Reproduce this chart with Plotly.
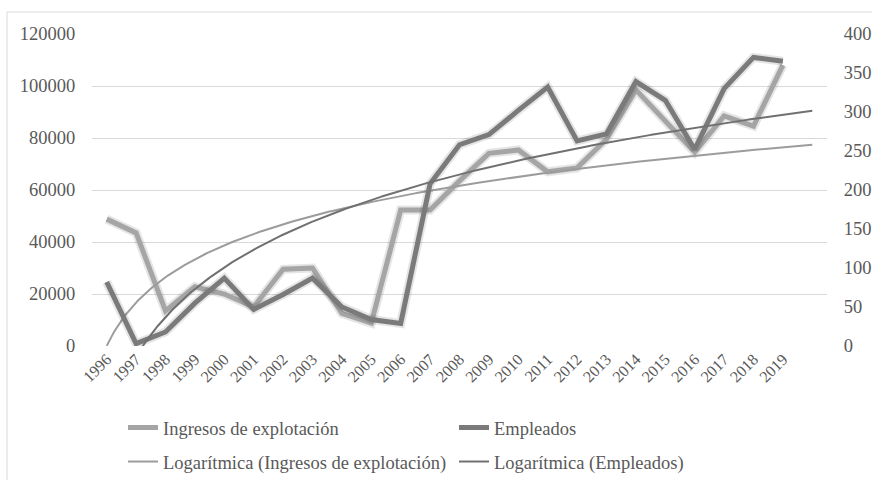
import numpy as np
import plotly.graph_objects as go

years = [str(y) for y in range(1996, 2020)]
ingresos = [48800, 43500, 13500, 22800, 20000, 15000, 29500, 30000, 12500, 8800,
            52300, 52300, 63500, 74100, 75400, 67000, 68500, 79500, 98500, 86500,
            74500, 88500, 84600, 108000]
empleados = [82, 3, 18, 55, 87, 47, 66, 87, 50, 34,
             29, 208, 258, 271, 302, 332, 263, 272, 339, 315,
             252, 330, 370, 365]
left_ticks = [0, 20000, 40000, 60000, 80000, 100000, 120000]
right_ticks = [0, 50, 100, 150, 200, 250, 300, 350, 400]
forecast_periods = 1

idx = np.arange(len(years))
# Excel-style logarithmic trendlines: y = a*ln(x) + b, x = 1..n
def log_fit(vals):
    x = idx + 1.0
    a, b = np.polyfit(np.log(x), np.array(vals, dtype=float), 1)
    xs = np.linspace(0, len(vals) - 1 + forecast_periods, 400)
    return xs, a * np.log(xs + 1) + b

xi, yi = log_fit(ingresos)
xe, ye = log_fit(empleados)

LIGHT = "#a5a5a5"
DARK = "#7a7a7a"
FONT = "Liberation Serif"
TXT = "#595959"

fig = go.Figure()
# soft shadows
fig.add_trace(go.Scatter(x=idx, y=ingresos, mode="lines", line=dict(color="rgba(0,0,0,0.10)", width=9),
                         showlegend=False, hoverinfo="skip"))
fig.add_trace(go.Scatter(x=idx, y=ingresos, mode="lines", name="Ingresos de explotación",
                         line=dict(color=LIGHT, width=5), legend="legend"))
fig.add_trace(go.Scatter(x=idx, y=empleados, mode="lines", line=dict(color="rgba(0,0,0,0.10)", width=9),
                         showlegend=False, hoverinfo="skip", yaxis="y2"))
fig.add_trace(go.Scatter(x=idx, y=empleados, mode="lines", name="Empleados",
                         line=dict(color=DARK, width=5), yaxis="y2", legend="legend"))
fig.add_trace(go.Scatter(x=xi, y=yi, mode="lines", name="Logarítmica (Ingresos de explotación)",
                         line=dict(color="#9c9c9c", width=2), legend="legend2"))
fig.add_trace(go.Scatter(x=xe, y=ye, mode="lines", name="Logarítmica (Empleados)",
                         line=dict(color="#707070", width=2), yaxis="y2", legend="legend2"))

W, H = 872, 480
L, R, T, B = 92, 45, 34, 134
pw, ph = W - L - R, H - T - B

fig.update_layout(
    width=W, height=H,
    margin=dict(l=L, r=R, t=T, b=B, autoexpand=False),
    paper_bgcolor="white", plot_bgcolor="white",
    font=dict(family=FONT, size=18, color=TXT),
    xaxis=dict(range=[-0.5, len(years) - 0.5 + forecast_periods], tickmode="array",
               tickvals=list(idx), ticktext=years, tickangle=-45, automargin=False,
               tickfont=dict(size=16), showgrid=False, zeroline=False, showline=False, ticks=""),
    yaxis=dict(range=[0, 120000], tickmode="array", tickvals=left_ticks, automargin=False,
               ticktext=[str(v) for v in left_ticks], showgrid=True, gridcolor="#d9d9d9",
               gridwidth=1, zeroline=False, showline=False, ticks="outside", ticklen=12,
               tickcolor="rgba(0,0,0,0)", tickfont=dict(size=18.5)),
    yaxis2=dict(range=[0, 400], overlaying="y", side="right", tickmode="array", automargin=False,
                tickvals=right_ticks, ticktext=[str(v) for v in right_ticks], showgrid=False,
                zeroline=False, showline=False, ticks="outside", ticklen=12,
                tickcolor="rgba(0,0,0,0)", tickfont=dict(size=18.5)),
    legend=dict(orientation="h", xref="container", yref="container", x=123 / W, y=1 - 409 / H,
                xanchor="left", yanchor="top", entrywidth=286, font=dict(size=18.5, color=TXT),
                bgcolor="rgba(0,0,0,0)"),
    legend2=dict(orientation="h", xref="container", yref="container", x=123 / W, y=1 - 443 / H,
                 xanchor="left", yanchor="top", entrywidth=286, font=dict(size=18.5, color=TXT),
                 bgcolor="rgba(0,0,0,0)"),
    shapes=[dict(type="rect", xref="paper", yref="paper",
                 x0=(7 - L) / pw, x1=(W + 20 - L) / pw,
                 y0=-(H + 20 - (T + ph)) / ph, y1=(T + ph - 12) / ph,
                 line=dict(color="#d9d9d9", width=1), fillcolor="rgba(0,0,0,0)", layer="below")],
    showlegend=True,
)

fig.write_html("out.html", config={"displayModeBar": False},
               post_script="document.body.style.margin='0';")
